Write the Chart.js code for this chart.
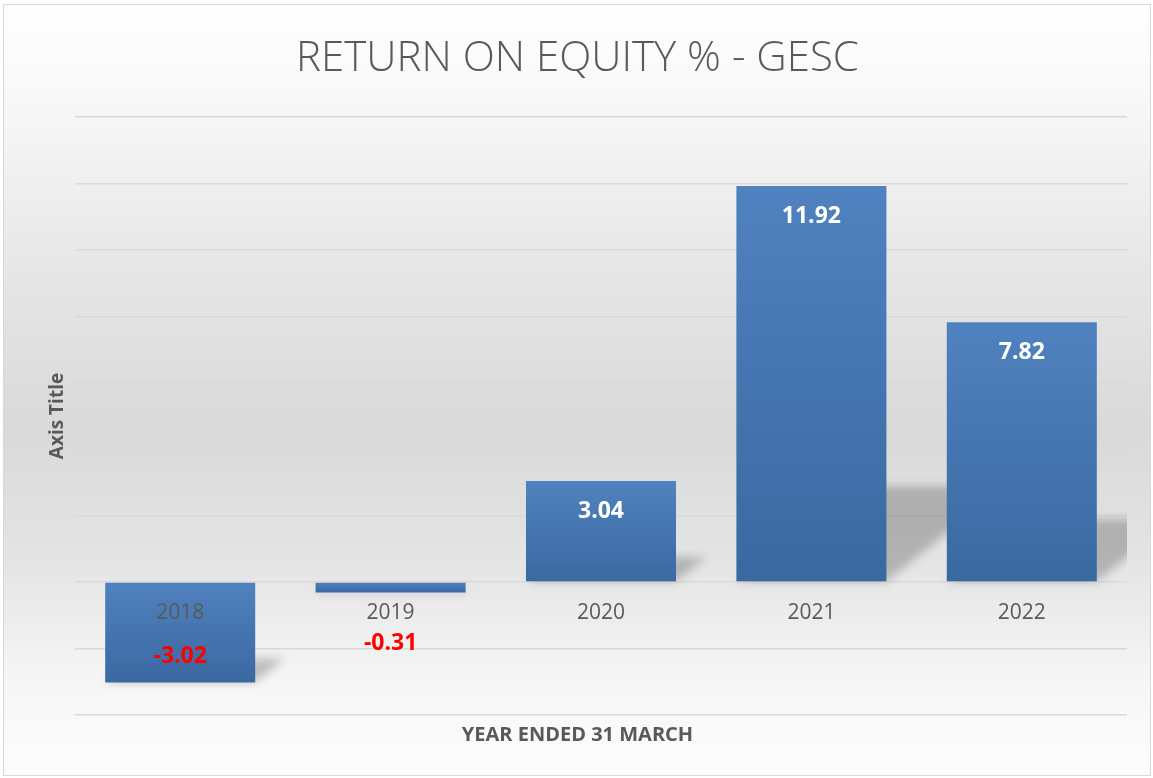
<!DOCTYPE html>
<html>
<head>
<meta charset="utf-8">
<script src="https://cdn.jsdelivr.net/npm/chart.js@4.4.1/dist/chart.umd.min.js"></script>
<style>
  body { margin: 0; background: #fff; }
  #box {
    position: absolute; left: 3px; top: 4px;
    width: 1146px; height: 770px;
    border: 1px solid #d9d9d9;
    background: linear-gradient(to bottom, #ffffff 0%, #f8f8f8 12%, #e6e6e6 35%, #d9d9d9 55%, #e4e4e4 72%, #f6f6f6 88%, #fdfdfd 100%);
  }
</style>
</head>
<body>
<div id="box"><canvas id="roeChart"></canvas></div>
<script>
const years = ['2018', '2019', '2020', '2021', '2022'];
const roeValues = [-3.02, -0.31, 3.04, 11.92, 7.82];
const yTicks = { min: -4, max: 14, step: 2 };

const chartTitle = 'RETURN ON EQUITY % - GESC';
const xTitle = 'YEAR ENDED 31 MARCH';
const yTitle = 'Axis Title';

// perspective-ish shadow behind each bar
const barShadows = {
    id: 'barShadows',
    beforeDatasetsDraw(chart) {
        const { ctx, chartArea } = chart;
        const meta = chart.getDatasetMeta(0);
        ctx.save();
        ctx.beginPath();
        ctx.rect(chartArea.left, chartArea.top, chartArea.right - chartArea.left, chartArea.bottom - chartArea.top);
        ctx.clip();
        ctx.filter = 'blur(5px)';
        ctx.fillStyle = 'rgba(0,0,0,0.22)';
        meta.data.forEach(bar => {
            const bottom = Math.max(bar.y, bar.base);
            const top = Math.min(bar.y, bar.base);
            const s = (bottom - top) * 0.24;
            const L = bar.x - bar.width / 2, R = bar.x + bar.width / 2;
            ctx.beginPath();
            ctx.moveTo(L, bottom);
            ctx.lineTo(R, bottom);
            ctx.lineTo(R + s * 1.25, bottom - s);
            ctx.lineTo(L + s * 1.25, bottom - s);
            ctx.closePath();
            ctx.fill();
        });
        ctx.restore();
    }
};

const valueLabels = {
    id: 'valueLabels',
    afterDatasetsDraw(chart) {
        const { ctx, scales } = chart;
        const meta = chart.getDatasetMeta(0);
        const zeroY = scales.y.getPixelForValue(0);
        ctx.save();
        ctx.font = 'bold 23px "Open Sans"';
        ctx.textAlign = 'center';
        ctx.textBaseline = 'middle';
        meta.data.forEach((bar, i) => {
            const v = roeValues[i];
            const txt = v.toFixed(2);
            if (v >= 0) {
                ctx.fillStyle = '#ffffff';
                ctx.fillText(txt, bar.x, bar.y + 30);
            } else {
                ctx.fillStyle = '#ff0000';
                ctx.fillText(txt, bar.x, Math.max(bar.y - 26, zeroY + 61));
            }
        });
        ctx.restore();
    }
};

const ctx = document.getElementById('roeChart').getContext('2d');
new Chart(ctx, {
    type: 'bar',
    data: {
        labels: years,
        datasets: [{
            data: roeValues,
            barPercentage: 0.713,
            categoryPercentage: 1,
            backgroundColor: function(c) {
                const chart = c.chart;
                if (!chart.chartArea) return '#4a7ab5';
                const y = chart.scales.y;
                const a = y.getPixelForValue(0), b = y.getPixelForValue(c.raw);
                const g = chart.ctx.createLinearGradient(0, Math.min(a, b), 0, Math.max(a, b) + 0.01);
                g.addColorStop(0, '#5082bf');
                g.addColorStop(1, '#3a68a1');
                return g;
            }
        }]
    },
    options: {
        responsive: true,
        maintainAspectRatio: false,
        animation: false,
        layout: { padding: { left: 24, right: 23, top: 0, bottom: 0 } },
        plugins: {
            legend: { display: false },
            tooltip: { enabled: false },
            title: {
                display: true,
                text: chartTitle,
                color: '#595959',
                font: { family: '"Open Sans"', size: 42, weight: '300', lineHeight: 1.2 },
                padding: { top: 29, bottom: 32.6 }
            },
            subtitle: {
                display: true,
                position: 'bottom',
                text: xTitle,
                color: '#595959',
                font: { family: '"Open Sans"', size: 20, weight: 'bold', lineHeight: 1.2 },
                padding: { top: 8, bottom: 28 }
            }
        },
        scales: {
            x: {
                position: { y: 0 },
                grid: { display: false, drawTicks: false },
                border: { display: false },
                ticks: { z: 1, color: '#595959', padding: 18, font: { family: '"Open Sans"', size: 21 } }
            },
            y: {
                min: yTicks.min,
                max: yTicks.max,
                afterFit(scale) { scale.width = 47; },
                ticks: { display: false, stepSize: yTicks.step },
                grid: { color: '#d9d9d9', lineWidth: 1.5, drawTicks: false },
                border: { display: false },
                title: {
                    display: true,
                    text: yTitle,
                    color: '#595959',
                    font: { family: '"Open Sans"', size: 19, weight: 'bold' },
                    padding: { top: 18, bottom: 4 }
                }
            }
        }
    },
    plugins: [barShadows, valueLabels]
});
</script>
</body>
</html>
